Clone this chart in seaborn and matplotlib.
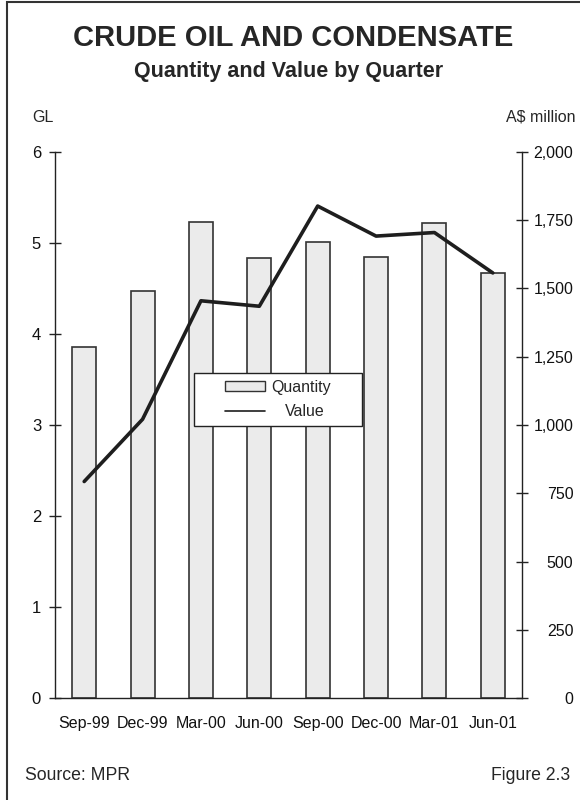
import matplotlib
matplotlib.use("Agg")
import matplotlib.pyplot as plt
import seaborn as sns
import numpy as np
import pandas as pd
from matplotlib.patches import Rectangle, Patch
from matplotlib.lines import Line2D
from matplotlib.ticker import FixedLocator, FuncFormatter

quarters = ["Sep-99", "Dec-99", "Mar-00", "Jun-00", "Sep-00", "Dec-00", "Mar-01", "Jun-01"]
quantity_gl = [3.86, 4.47, 5.23, 4.83, 5.01, 4.85, 5.22, 4.67]
value_amillion = [793, 1021, 1455, 1435, 1802, 1692, 1705, 1557]

title = "CRUDE OIL AND CONDENSATE"
subtitle = "Quantity and Value by Quarter"
left_label = "GL"
right_label = "A$ million"
source = "Source: MPR"
figure_no = "Figure 2.3"

sns.set_theme(style="white")
plt.rcParams["font.family"] = ["Liberation Sans", "DejaVu Sans"]

df = pd.DataFrame({"quarter": quarters, "quantity": quantity_gl, "value": value_amillion})
df["pos"] = np.arange(len(quarters))

fig = plt.figure(figsize=(5.8, 8.0), dpi=100)
ax = fig.add_axes([55 / 580, 1 - 698 / 800, (522 - 55) / 580, (698 - 152) / 800])

sns.barplot(data=df, x="quarter", y="quantity", ax=ax, color="#ebebeb",
            edgecolor="#333333", linewidth=1.2, width=0.41, saturation=1)
ax.set_xlim(-0.5, len(quarters) - 0.5)
ax.set_ylim(0, 6)
ax.set_yticks([0, 1, 2, 3, 4, 5, 6])
ax.set_xlabel("")
ax.set_ylabel("")

ax2 = ax.twinx()
sns.lineplot(data=df, x="pos", y="value", ax=ax2, color="#1e1e1e", linewidth=2.6)
ax2.set_ylim(0, 2000)
ax2.set_yticks(np.arange(0, 2001, 250))
ax2.yaxis.set_major_formatter(FuncFormatter(lambda v, p: f"{int(v):,}"))
ax2.set_xlim(-0.5, len(quarters) - 0.5)
ax2.set_xlabel("")
ax2.set_ylabel("")

spine_col = "#222222"
for a in (ax, ax2):
    a.spines["top"].set_visible(False)
    for s in a.spines.values():
        s.set_color(spine_col)
        s.set_linewidth(1.0)
    a.set_facecolor("none")
ax.spines["right"].set_visible(False)
ax2.spines["left"].set_visible(False)
ax2.spines["bottom"].set_visible(False)

# x ticks: labels at centers, tick marks at category boundaries
ax.xaxis.set_minor_locator(FixedLocator(np.arange(-0.5, len(quarters), 1.0)))
ax.tick_params(axis="x", which="major", length=0, pad=13, labelsize=11.5, colors="#111111")
ax.tick_params(axis="x", which="minor", direction="inout", length=8, width=1, color=spine_col)
ax.tick_params(axis="y", direction="inout", length=8, width=1, color=spine_col,
               pad=6, labelsize=12, labelcolor="#111111", left=True)
ax2.tick_params(axis="y", direction="inout", length=8, width=1, color=spine_col,
                pad=33, labelsize=11.5, labelcolor="#111111", right=True)
for lab in ax2.get_yticklabels():
    lab.set_horizontalalignment("right")

# legend: frame drawn as a box behind the centred legend content
box = Rectangle((0.298, 0.498), 0.359, 0.097, transform=ax2.transAxes,
                facecolor="white", edgecolor="#222222", linewidth=1.0, zorder=5)
ax2.add_patch(box)
handles = [Patch(facecolor="#ebebeb", edgecolor="#333333", linewidth=1.0),
           Line2D([0], [0], color="#1e1e1e", linewidth=1.2)]
leg = ax2.legend(handles, ["Quantity", "Value"], loc="center",
                 bbox_to_anchor=(0.4775, 0.5467), borderaxespad=0, frameon=False,
                 fontsize=11.5, handlelength=2.5, handleheight=0.55,
                 handletextpad=0.45, borderpad=0.2, labelspacing=0.62)
leg.set_zorder(6)
leg.get_texts()[1].set_x(13)

fig.text(0.505, 0.9525, title, ha="center", va="center", fontsize=21, fontweight="bold")
fig.text(0.497, 0.911, subtitle, ha="center", va="center", fontsize=15.5, fontweight="bold")
fig.text(32 / 580, 1 - 117 / 800, left_label, ha="left", va="center", fontsize=11.5)
fig.text(575 / 580, 1 - 117 / 800, right_label, ha="right", va="center", fontsize=11.5)
fig.text(25 / 580, 1 - 775 / 800, source, ha="left", va="center", fontsize=12.7)
fig.text(570 / 580, 1 - 775 / 800, figure_no, ha="right", va="center", fontsize=12.7)

fig.patches.append(Rectangle((7 / 580, -0.05), 1.2, 1.05 - 2 / 800,
                             transform=fig.transFigure, fill=False,
                             edgecolor="#333333", linewidth=1.5))

fig.savefig("out.png", dpi=100)
